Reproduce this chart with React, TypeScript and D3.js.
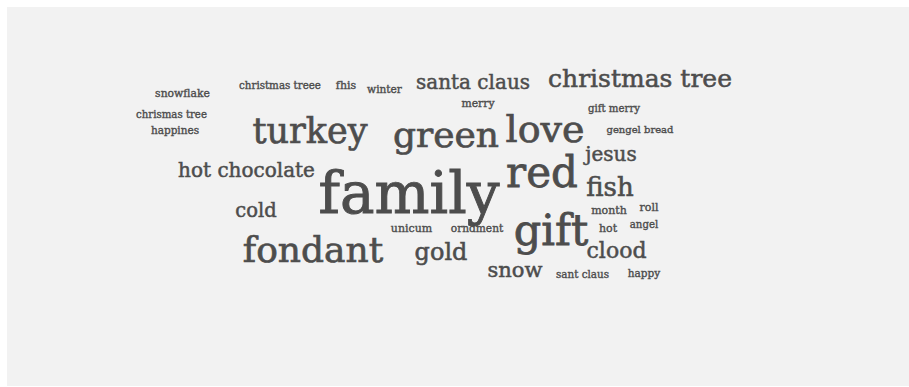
import React from "react";
import * as d3 from "d3";

const words = [
  "family", "gift", "red", "love", "green", "fondant", "turkey",
  "christmas tree", "fish", "gold", "clood", "santa claus", "snow", "jesus",
  "hot chocolate", "cold", "month", "roll", "hot", "unicum", "fhis",
  "snowflake", "orndment", "merry", "happy", "winter", "happines", "angel",
  "sant claus", "christmas treee", "gift merry", "chrismas tree", "gengel bread",
];

const weights = [
  58, 43, 42, 38, 36, 36, 35,
  25, 26, 24, 22, 20, 21, 20,
  20, 19.5, 11, 11, 11, 11, 11,
  10.8, 10.6, 10.8, 10.5, 10.6, 10.5, 10.2,
  10.4, 10.3, 10.2, 10.2, 10,
];

// word-cloud layout output (word centre / baseline, relative to cloud centre)
const layoutX = [
  -25, 117, 108, 111, 12, -121, -124,
  206, 176, 7, 182.5, 39, 81, 177,
  -187.5, -178, 175, 215, 174, -22.5, -88,
  -251.5, 43, 44, 210, -49.5, -259, 210,
  148.5, -154, 180, -262.5, 206,
];
const layoutY = [
  38, 70, 12, -33, -28, 87, -32,
  -88, 21, 85, 83, -86, 102, -14,
  2, 42, 39, 36, 57, 56.5, -86,
  -78, 56.5, -68, 102, -82, -41, 53,
  103, -86, -63.5, -57.5, -42,
];

const W = 909;
const H = 387;
const cx = 434;
const cy = 175;

export default function App() {
  const x = d3.scaleLinear().domain([-450, 450]).range([cx - 450, cx + 450]);
  const y = d3.scaleLinear().domain([-200, 200]).range([cy - 200, cy + 200]);
  const size = d3
    .scaleLinear()
    .domain([d3.min(weights) as number, d3.max(weights) as number])
    .range([10, 58]);

  return (
    <svg
      width={W}
      height={H}
      style={{ position: "absolute", left: 0, top: 0, display: "block" }}
    >
      <rect x={7} y={7} width={902} height={379} fill="#f2f2f2" />
      <g
        fontFamily="'DejaVu Serif', serif"
        fill="#4d4d4d"
        stroke="#4d4d4d"
        textAnchor="middle"
      >
        {words.map((w, i) => {
          const fs = size(weights[i]);
          return (
            <text
              key={w}
              x={x(layoutX[i])}
              y={y(layoutY[i])}
              fontSize={fs}
              strokeWidth={0.25 + fs * 0.012}
            >
              {w}
            </text>
          );
        })}
      </g>
    </svg>
  );
}
